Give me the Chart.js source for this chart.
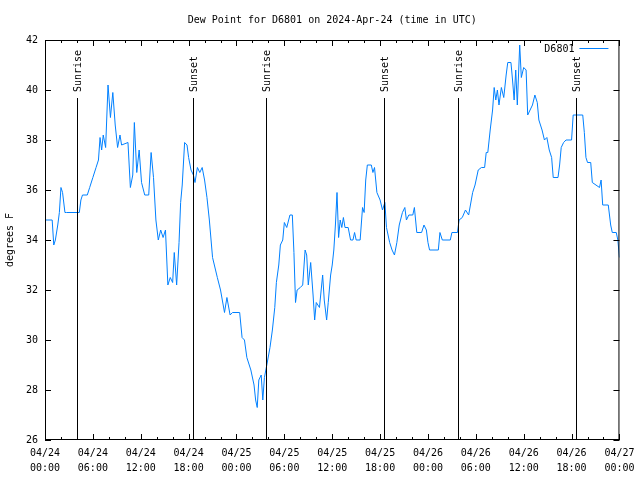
<!DOCTYPE html>
<html>
<head>
<meta charset="utf-8">
<script src="https://cdn.jsdelivr.net/npm/chart.js@4/dist/chart.umd.min.js"></script>
<style>
  html, body { margin: 0; padding: 0; background: #fff; }
  #wrap { width: 640px; height: 480px; }
</style>
</head>
<body>
<div id="wrap"><canvas id="myChart"></canvas></div>
<script>
// hours since 2024-04-24 00:00 UTC
var hours = [
  0, 0.9, 1.1, 1.3, 1.6, 1.8, 2.0, 2.2, 2.5, 2.7, 4.3, 4.5, 4.7, 5.3, 5.6, 6.0, 6.4, 6.7, 6.9, 7.1,
  7.3, 7.6, 7.9, 8.2, 8.5, 8.8, 9.1, 9.4, 9.6, 10.4, 10.7, 11.0, 11.2, 11.5, 11.8, 12.1, 12.5, 13.0, 13.3, 13.6,
  13.9, 14.2, 14.5, 14.8, 15.1, 15.4, 15.7, 16.0, 16.2, 16.5, 16.8, 17.0, 17.2, 17.5, 17.8, 18.0, 18.3, 18.6, 18.8, 19.1,
  19.4, 19.7, 20.0, 20.3, 20.6, 21.0, 21.6, 22.0, 22.5, 22.8, 23.2, 23.5, 24.4, 24.7, 25.0, 25.3, 25.8, 26.2, 26.4, 26.6,
  26.8, 27.1, 27.3, 27.5, 27.8, 28.2, 28.5, 28.8, 29.0, 29.3, 29.5, 29.8, 30.0, 30.3, 30.7, 31.0, 31.2, 31.4, 31.6, 32.0,
  32.3, 32.6, 32.8, 33.0, 33.3, 33.6, 33.8, 34.0, 34.4, 34.8, 35.0, 35.3, 35.5, 35.8, 36.0, 36.2, 36.4, 36.6, 36.8, 37.0,
  37.2, 37.4, 37.6, 38.0, 38.3, 38.6, 38.8, 39.0, 39.5, 39.8, 40.0, 40.2, 40.4, 40.9, 41.1, 41.3, 41.6, 42.0, 42.3, 42.6,
  42.8, 43.2, 43.5, 43.8, 44.1, 44.4, 44.8, 45.1, 45.3, 45.6, 46.1, 46.3, 46.6, 47.2, 47.5, 47.8, 48.0, 48.2, 49.3, 49.5,
  49.8, 50.8, 51.0, 51.7, 51.9, 52.3, 52.7, 53.1, 53.6, 53.9, 54.3, 54.7, 55.1, 55.3, 55.5, 55.8, 56.1, 56.3, 56.5, 56.7,
  56.9, 57.2, 57.5, 57.8, 58.0, 58.4, 58.6, 58.8, 59.0, 59.2, 59.5, 59.7, 60.0, 60.3, 60.5, 60.8, 61.1, 61.4, 61.7, 61.9,
  62.3, 62.6, 62.9, 63.2, 63.5, 63.7, 64.3, 64.5, 64.7, 65.0, 65.3, 66.0, 66.2, 67.4, 67.6, 67.8, 68.0, 68.4, 68.6, 69.5,
  69.7, 69.9, 70.6, 70.9, 71.1, 71.6, 71.8, 72.0
];
var dewPoint = [
  34.8, 34.8, 33.8, 34.0, 34.6, 35.1, 36.1, 35.9, 35.1, 35.1, 35.1, 35.6, 35.8, 35.8, 36.1, 36.5, 36.9, 37.2, 38.1, 37.6,
  38.2, 37.7, 40.2, 38.9, 39.9, 38.6, 37.7, 38.2, 37.8, 37.9, 36.1, 36.6, 38.7, 36.7, 37.6, 36.3, 35.8, 35.8, 37.5, 36.5,
  34.8, 34.0, 34.4, 34.1, 34.4, 32.2, 32.5, 32.3, 33.5, 32.2, 33.9, 35.5, 36.2, 37.9, 37.8, 37.3, 36.8, 36.6, 36.3, 36.9,
  36.7, 36.9, 36.4, 35.7, 34.8, 33.3, 32.5, 32.0, 31.1, 31.7, 31.0, 31.1, 31.1, 30.1, 30.0, 29.3, 28.8, 28.2, 27.6, 27.3,
  28.4, 28.6, 27.6, 28.5, 29.0, 29.7, 30.4, 31.3, 32.3, 33.0, 33.8, 34.0, 34.7, 34.5, 35.0, 35.0, 33.5, 31.5, 32.0, 32.1,
  32.2, 33.6, 33.4, 32.2, 33.1, 31.8, 30.8, 31.5, 31.3, 32.6, 31.6, 30.8, 31.5, 32.6, 33.0, 33.6, 34.6, 35.9, 34.1, 34.8,
  34.5, 34.9, 34.5, 34.5, 34.0, 34.0, 34.3, 34.0, 34.0, 35.3, 35.1, 36.4, 37.0, 37.0, 36.7, 36.9, 35.9, 35.6, 35.2, 35.5,
  34.5, 33.9, 33.6, 33.4, 33.9, 34.6, 35.1, 35.3, 34.8, 35.0, 35.0, 35.3, 34.3, 34.3, 34.6, 34.4, 33.9, 33.6, 33.6, 34.3,
  34.0, 34.0, 34.3, 34.3, 34.8, 34.9, 35.2, 35.0, 35.9, 36.2, 36.8, 36.9, 36.9, 37.5, 37.5, 38.4, 39.2, 40.1, 39.6, 40.0,
  39.4, 40.1, 39.7, 40.6, 41.1, 41.1, 40.4, 39.6, 40.8, 39.4, 41.8, 40.5, 40.9, 40.8, 39.0, 39.2, 39.4, 39.8, 39.5, 38.8,
  38.4, 38.0, 38.1, 37.6, 37.3, 36.5, 36.5, 37.0, 37.7, 37.9, 38.0, 38.0, 39.0, 39.0, 38.3, 37.3, 37.1, 37.1, 36.3, 36.1,
  36.4, 35.4, 35.4, 34.6, 34.3, 34.3, 34.0, 33.3
];

// sunrise / sunset markers
var eventHours = [4, 18.5, 27.75, 42.5, 51.75, 66.5];
var eventLabels = ["Sunrise", "Sunset", "Sunrise", "Sunset", "Sunrise", "Sunset"];
var eventTop = 39.68;

var seriesName = "D6801";
var lineColor = "rgb(0,128,255)";
var monoFont = "'DejaVu Sans Mono', 'Liberation Mono', monospace";

function pad(n) {
  return (n < 10 ? "0" : "") + n;
}

function timeLabel(h) {
  var day = 24 + Math.floor(h / 24);
  return ["04/" + pad(day), pad(h % 24) + ":00"];
}

var points = [];
for (var i = 0; i < hours.length; i++) {
  points.push({ x: hours[i], y: dewPoint[i] });
}

// frame, inward ticks, sunrise/sunset lines and key, gnuplot style
var gnuplotBits = {
  id: "gnuplotBits",
  afterDatasetsDraw: function(chart) {
    var ctx = chart.ctx;
    var a = chart.chartArea;
    var xs = chart.scales.x, ys = chart.scales.y;
    ctx.save();
    ctx.strokeStyle = "#000";
    ctx.lineWidth = 1;

    ctx.beginPath();
    var h, px, len;
    for (h = 0; h <= 72; h += 2) {
      px = Math.round(xs.getPixelForValue(h)) + 0.5;
      len = (h % 6 === 0) ? 6 : 3;
      ctx.moveTo(px, a.bottom); ctx.lineTo(px, a.bottom - len);
      ctx.moveTo(px, a.top); ctx.lineTo(px, a.top + len);
    }
    for (var v = 26; v <= 42; v += 2) {
      var py = Math.round(ys.getPixelForValue(v)) + 0.5;
      ctx.moveTo(a.left, py); ctx.lineTo(a.left + 6, py);
      ctx.moveTo(a.right, py); ctx.lineTo(a.right - 6, py);
    }
    ctx.stroke();

    // sunrise / sunset
    var topPx = ys.getPixelForValue(eventTop);
    ctx.font = "10px " + monoFont;
    ctx.fillStyle = "#000";
    for (var k = 0; k < eventHours.length; k++) {
      px = Math.round(xs.getPixelForValue(eventHours[k])) + 0.5;
      ctx.beginPath();
      ctx.moveTo(px, a.bottom);
      ctx.lineTo(px, topPx);
      ctx.stroke();
      ctx.save();
      ctx.translate(px + 1, topPx - 6);
      ctx.rotate(-Math.PI / 2);
      ctx.textAlign = "left";
      ctx.textBaseline = "middle";
      ctx.fillText(eventLabels[k], 0, 0);
      ctx.restore();
    }

    // key
    ctx.textAlign = "right";
    ctx.textBaseline = "middle";
    ctx.fillText(seriesName, a.right - 45, a.top + 9);
    ctx.strokeStyle = lineColor;
    ctx.beginPath();
    ctx.moveTo(a.right - 40, a.top + 8.5);
    ctx.lineTo(a.right - 11, a.top + 8.5);
    ctx.stroke();

    ctx.strokeStyle = "#000";
    ctx.strokeRect(a.left + 0.5, a.top + 0.5, a.right - a.left - 1, a.bottom - a.top - 1);
    ctx.restore();
  }
};

Chart.defaults.font.family = monoFont;
Chart.defaults.font.size = 10;
Chart.defaults.color = "#000";

var ctx = document.getElementById("myChart").getContext("2d");
var myChart = new Chart(ctx, {
  type: "line",
  data: {
    datasets: [{
      label: seriesName,
      data: points,
      borderColor: lineColor,
      borderWidth: 1,
      pointRadius: 0,
      tension: 0,
      fill: false
    }]
  },
  options: {
    responsive: true,
    maintainAspectRatio: false,
    animation: false,
    layout: { padding: { left: 0, right: 19, top: 0, bottom: 0 } },
    plugins: {
      legend: { display: false },
      tooltip: { enabled: false },
      title: {
        display: true,
        text: "Dew Point for D6801 on 2024-Apr-24 (time in UTC)",
        fullSize: false,
        font: { size: 10, weight: "normal", lineHeight: 1.2 },
        padding: { top: 14, bottom: 14 },
        color: "#000"
      }
    },
    scales: {
      x: {
        type: "linear",
        min: 0,
        max: 72,
        grid: { display: false, drawTicks: false },
        border: { display: false },
        ticks: {
          stepSize: 6,
          autoSkip: false,
          maxRotation: 0,
          padding: 5.5,
          font: { size: 10, lineHeight: 1.5 },
          callback: function(value) { return timeLabel(value); }
        },
        afterFit: function(s) { s.height = 40; }
      },
      y: {
        min: 26,
        max: 42,
        grid: { display: false, drawTicks: false },
        border: { display: false },
        ticks: { stepSize: 2, padding: 7 },
        title: {
          display: true,
          text: "degrees F",
          font: { size: 10, lineHeight: 1.2 },
          padding: { top: 4, bottom: 0 }
        },
        afterFit: function(s) { s.width = 45; }
      }
    }
  },
  plugins: [gnuplotBits]
});
</script>
</body>
</html>
